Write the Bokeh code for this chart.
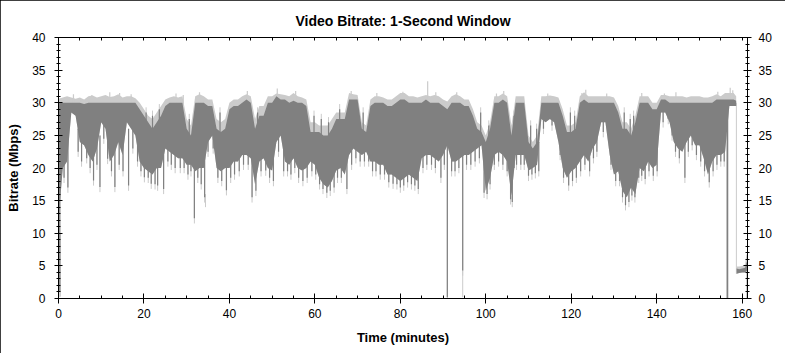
import numpy as np
from bokeh.plotting import figure
from bokeh.models import (LinearAxis, Range1d, ColumnDataSource,
                          SingleIntervalTicker, FixedTicker)
from bokeh.embed import file_html
from bokeh.resources import INLINE

# ---- data ----
minutes = list(range(0, 159))
hi = [30, 30, 30, 30, 30, 30, 29.8, 30, 30, 30,
      30, 30, 30, 30, 30, 30, 30, 30, 30, 29,
      28, 27, 26, 27, 28, 29.5, 30, 30, 30, 30,
      26, 25, 30, 30, 30, 29.5, 29.5, 26, 25.5, 26,
      29, 29.5, 29.5, 30, 30.5, 30, 26, 28, 28, 30,
      30, 31, 30.5, 30.5, 30, 30.3, 30, 30, 29.5, 25.5,
      25.5, 25.5, 25, 25, 26, 27.5, 27.5, 27.5, 30.5, 30.5,
      30.5, 26, 25.5, 29.5, 30, 30, 30, 29.5, 29.5, 30,
      30.5, 30.5, 30, 30, 30, 30, 30.5, 30, 30, 30,
      29.5, 29, 30, 30, 30, 29.5, 29.5, 28, 26, 25.5,
      24, 26, 30, 30, 30.5, 30, 25, 30, 30, 30,
      24, 23, 24, 30, 30, 30, 30, 30, 28, 25.5,
      25.5, 26, 30, 30.5, 30, 30, 30, 30, 30, 30,
      30, 28.5, 26, 26, 25, 27, 30, 30, 30, 29,
      29, 30.5, 30.5, 30, 30, 30, 30, 30, 30, 30,
      30, 30, 30, 30, 30.5, 30.5, 30.5, 30.5, 30.5]
lo = [12, 20, 21, 28.5, 28, 24, 23.5, 22, 21, 23,
      27, 26, 21, 22, 24, 22, 27, 26, 25, 21,
      20, 19.5, 19, 20, 20, 23, 22.5, 22, 21.5, 21.5,
      20.5, 20.5, 19.5, 20, 20, 24, 25, 20, 19.5, 20,
      20, 21, 21, 22, 22, 21.5, 17.5, 21, 21.5, 20,
      19.6, 24, 25, 21, 20.5, 21.5, 20, 19.6, 20, 21,
      20.5, 18.5, 17.5, 17, 18, 19.6, 20, 19, 22, 23,
      22.5, 22, 22.5, 21, 21, 20.5, 20.5, 19, 19, 18.5,
      18, 18.5, 19, 18.5, 18, 21.5, 22, 22, 21.5, 21,
      22, 23.5, 21, 21, 21.5, 22, 22, 22.5, 23, 23.5,
      16.5, 18.5, 22, 22.5, 22, 21, 15.8, 22, 22, 22,
      19.6, 20, 20.5, 27.5, 27, 27.5, 27, 24, 20, 18.5,
      19.5, 20, 21, 22, 21, 23, 24, 27, 27, 22,
      19, 19.5, 16.5, 15.5, 17, 16, 20, 19.5, 21, 20,
      20.5, 28.5, 28.5, 27, 24, 23, 22.5, 24, 25, 23.5,
      23.5, 21.5, 19, 21, 22, 22, 22.5, 29.5, 29.5]
pk = [30.6, 30.8, 31, 30.8, 30.6, 30.8, 30.5, 31, 31.1, 30.8,
      31, 31.2, 30.9, 31, 31.3, 30.8, 31, 31, 30.7, 30,
      29, 28, 27.5, 28.5, 29.5, 30.5, 30.8, 31, 30.8, 31,
      27.5, 26.5, 31, 31.3, 31, 30.5, 30.5, 27.5, 27, 27.5,
      30, 30.5, 30.5, 31, 31.3, 31, 27.5, 29.5, 29.5, 31,
      31, 31.4, 31.3, 31.2, 31, 31.5, 31, 30.8, 30.5, 27,
      27, 26.5, 26.5, 26.5, 27.5, 28.5, 28.5, 28.5, 31.5, 31.3,
      31.2, 27, 26.5, 30.5, 31, 31, 30.8, 30.5, 30.5, 31,
      31.5, 31.5, 31, 31, 30.8, 31, 31.2, 31, 31.2, 31,
      30.5, 30.2, 31, 31.3, 31, 30.5, 30.5, 29, 27, 26.5,
      25, 27, 31, 31, 31.4, 31, 26.5, 31, 31, 31,
      25, 24, 25, 31, 31, 31.1, 31, 30.8, 29, 26.5,
      26.5, 27, 31, 31.6, 31, 31, 31, 31, 31, 31,
      30.8, 29.5, 27, 27, 26, 28, 31, 31, 31, 30,
      30, 31.2, 31.2, 31, 31, 31, 31, 30.8, 31, 31,
      31, 30.8, 30.8, 31, 31.3, 31, 31.5, 31.5, 31.5]
tail_t = [158.6, 158.7, 159.3, 160.0, 160.7, 161.0, 161.2]
tail_hi = [30.3, 4.6, 4.5, 4.6, 4.7, 5.5, 5.5]
tail_lo = [29.5, 3.8, 3.9, 4.0, 4.0, 4.2, 4.2]
tail_pk = [31.0, 4.9, 4.9, 5.0, 5.2, 6.8, 6.8]

# downward dark streaks: time, upper end, lower end
dip_t = [0.3, 1.3, 2.2, 4.6, 5.4, 6.6, 7.4, 8.2, 9.0, 9.7,
         10.6, 11.5, 12.4, 13.2, 14.2, 15.1, 16.4, 17.4, 18.5, 19.3,
         20.1, 21.0, 21.7, 22.6, 23.2, 24.6, 25.6, 26.4, 27.3, 28.5,
         29.4, 30.3, 31.0, 31.8, 32.6, 33.4, 34.2, 35.0, 36.2, 37.3,
         38.2, 39.3, 40.3, 41.2, 42.3, 43.3, 44.4, 45.3, 46.2, 47.4,
         48.5, 49.4, 50.3, 51.5, 52.7, 53.6, 54.4, 55.3, 56.2, 57.2,
         58.2, 59.3, 60.2, 61.1, 61.9, 62.8, 63.6, 64.5, 65.3, 66.2,
         67.5, 68.6, 69.6, 70.6, 71.6, 72.6, 73.5, 74.3, 75.3, 76.3,
         77.3, 78.3, 79.2, 80.0, 80.8, 81.7, 82.6, 83.4, 84.2, 85.3,
         86.2, 87.3, 88.2, 89.5, 90.3, 91.0, 92.0, 92.8, 93.7, 94.6,
         95.5, 96.5, 97.5, 98.5, 99.6, 100.3, 101.0, 102.0, 103.0, 104.0,
         105.0, 105.8, 106.2, 107.2, 108.2, 109.0, 110.0, 110.8, 111.6, 112.4,
         113.5, 115.5, 117.4, 118.2, 119.4, 120.3, 121.2, 122.2, 123.2, 124.3,
         125.2, 126.0, 127.5, 129.3, 130.4, 131.3, 132.0, 132.7, 133.5, 134.2,
         134.9, 135.8, 136.5, 137.3, 138.2, 139.2, 140.1, 141.5, 142.7, 143.6,
         144.4, 145.3, 146.6, 147.4, 148.3, 149.3, 150.3, 151.2, 152.3, 153.2,
         154.1, 155.0, 155.8, 156.5, 156.6, 161.2]
dip_top = [30, 25, 25, 26, 26, 26, 26, 25, 26, 25,
           28, 27, 25, 25, 26, 26, 26, 27, 27, 25,
           24, 24, 24, 24, 24, 24, 26, 26, 26, 25,
           25, 24, 24, 24, 25, 25, 25, 27, 27, 24,
           24, 24, 25, 26, 26, 26, 26, 24, 24, 25,
           25, 25, 25, 27, 26, 25, 25, 25, 25, 25,
           25, 24, 24, 23, 22, 22, 22, 23, 24, 24,
           24, 26, 26, 26, 25, 25, 25, 25, 25, 25,
           24, 24, 24, 24, 24, 24, 24, 24, 24, 25,
           25, 25, 25, 25, 25, 26, 25, 25, 25, 26,
           25, 25, 25, 25, 23, 23, 23, 26, 26, 26,
           25, 24, 24, 25, 25, 25, 23, 23, 23, 24,
           29, 29, 26, 24, 24, 24, 24, 25, 25, 25,
           26, 26, 29, 25, 24, 24, 23, 23, 23, 23,
           23, 25, 25, 25, 25, 25, 25, 29.5, 29.5, 28,
           27, 26, 26, 26, 27, 26, 26, 25, 25, 25,
           26, 26, 26, 29, 29, 5.5]
dip_bot = [1.0, 18.5, 17, 22.5, 21, 21.5, 20, 18.1, 20.5, 17.1,
           24.5, 21.4, 19.5, 17.1, 20.5, 19.5, 17.3, 23, 21, 19.5,
           18.6, 18.5, 17.6, 17.5, 17.3, 16.8, 21, 20.5, 20, 20,
           20, 19, 19.5, 12.3, 18.5, 17.5, 15.5, 22.5, 23, 18.5,
           18, 16.6, 18.5, 19, 19.5, 20.5, 20.5, 15.5, 16.5, 19.5,
           19.6, 18.5, 18.0, 22.5, 19.5, 19.5, 19, 20, 18.5, 18.0,
           18.5, 19.5, 19, 17.5, 16.8, 16.2, 16.5, 17, 18.5, 18.5,
           16.8, 20.5, 21.5, 21, 21, 21, 19.5, 19.5, 19, 19,
           17.8, 17.6, 17.5, 17, 17.3, 17.8, 17.5, 17.3, 16.8, 20,
           20.5, 20.5, 20, 18.5, 20.5, 0.2, 19.5, 19.5, 20, 4.3,
           20.5, 20.5, 21, 21.5, 16.2, 16, 17.5, 20.5, 21, 20.5,
           19.5, 15.2, 14.8, 20.5, 20.5, 20.5, 18.8, 19, 19.2, 19.5,
           26, 26.5, 22, 18.5, 17.3, 18, 18.5, 19.5, 20.5, 19.5,
           21.5, 22.5, 25.5, 20.5, 18, 18, 15.5, 14.3, 14.8, 15.8,
           15.5, 18.5, 18.8, 18.3, 19.5, 18.8, 19.5, 27, 27.5, 25,
           22.5, 21.5, 18.5, 22.5, 23.5, 22, 21, 19.5, 17.8, 19.5,
           20.5, 21, 21, 0, 0, 0]

# upward dark streaks: time, lower end, upper end
rise_t = [20.5, 22.0, 23.6, 30.6, 37.8, 46.6, 59.8, 61.5, 63.2, 65.8,
          71.3, 98.8, 100.7, 106.6, 110.5, 111.9, 119.8, 120.8, 132.4, 133.8,
          134.6]
rise_bot = [24, 23, 23, 22, 22, 22, 22, 21, 20, 22,
            23, 24, 20, 20, 21, 21, 21, 21, 20, 19,
            20]
rise_top = [28.5, 28, 29, 27.5, 28.5, 28.5, 28, 27.5, 27, 29,
            28.5, 28.5, 26.5, 28, 26.5, 26, 28.5, 28, 28.5, 27.5,
            28]

# extra light-grey streaks: time, upper end, lower end
ls_t = [0.45, 34.4, 94.6, 158.65]
ls_top = [10, 16, 4.3, 30]
ls_bot = [0.3, 14.0, 0.2, 3.8]

# light peaks above the band: time, value
peak_t = [3.5, 7.8, 12.0, 14.3, 17.0, 27.5, 29.2, 33.0, 44.2, 51.2,
          55.5, 68.5, 74.5, 80.6, 86.4, 88.3, 93.2, 102.5, 104.2, 114.5,
          122.5, 123.4, 128.3, 136.5, 141.8, 144.5, 154.3, 157.2, 157.8]
peak_v = [31.3, 31.2, 31.6, 31.5, 31.3, 31.4, 31.2, 31.6, 31.8, 32.2,
          31.8, 31.8, 31.5, 31.7, 33.3, 31.6, 31.6, 31.4, 31.8, 31.4,
          31.5, 32.0, 31.4, 31.5, 31.4, 31.6, 31.7, 32.3, 31.9]

DARK = "#808080"
LIGHT = "#cbcbcb"
FONT = "Liberation Sans"
TIP = 0.8  # length of the light tip drawn beyond a dark streak

t_all = np.array(minutes + tail_t, dtype=float)
hi_all = np.array(hi + tail_hi, dtype=float)
lo_all = np.array(lo + tail_lo, dtype=float)
pk_all = np.array(pk + tail_pk, dtype=float)
src = ColumnDataSource(dict(t=t_all, hi=hi_all, lo=lo_all, pk=pk_all))

p = figure(width=785, height=353, output_backend="svg", toolbar_location=None,
           x_range=Range1d(0, 161.25), y_range=Range1d(0, 40),
           min_border_left=58, min_border_right=38, min_border_top=37,
           min_border_bottom=55, title="Video Bitrate: 1-Second Window")
p.styles = {"outline": "1px solid black", "outline-offset": "-1px"}
p.background_fill_color = "white"
p.border_fill_color = "white"
p.outline_line_color = "black"
p.xgrid.visible = False
p.ygrid.visible = False

p.title.align = "center"
p.title.text_font = FONT
p.title.text_font_size = "14px"
p.title.text_font_style = "bold"
p.title.text_color = "black"
p.title.standoff = 17

# ---- data drawing ----
p.varea(x="t", y1="lo", y2="pk", source=src, fill_color=LIGHT)
# light tips / lines
p.segment(x0=ls_t, y0=ls_top, x1=ls_t, y1=ls_bot, line_color=LIGHT, line_width=1)
p.segment(x0=dip_t, y0=dip_top, x1=dip_t, y1=np.array(dip_bot) - TIP,
          line_color=LIGHT, line_width=1)
p.segment(x0=rise_t, y0=rise_bot, x1=rise_t, y1=np.array(rise_top) + TIP,
          line_color=LIGHT, line_width=1)
hi_at_pk = np.interp(peak_t, t_all, hi_all)
p.segment(x0=peak_t, y0=hi_at_pk, x1=peak_t, y1=peak_v, line_color=LIGHT, line_width=1.2)
# dark band and streaks
p.varea(x="t", y1="lo", y2="hi", source=src, fill_color=DARK)
p.segment(x0=dip_t, y0=dip_top, x1=dip_t, y1=dip_bot, line_color=DARK, line_width=1.2)
p.segment(x0=rise_t, y0=rise_bot, x1=rise_t, y1=rise_top, line_color=DARK, line_width=1.2)


def style_axis(ax):
    ax.axis_line_color = "black"
    ax.major_tick_line_color = "black"
    ax.minor_tick_line_color = "black"
    ax.major_label_text_font = FONT
    ax.major_label_text_font_size = "12px"
    ax.major_label_text_color = "black"
    ax.axis_label_text_font = FONT
    ax.axis_label_text_font_size = "13px"
    ax.axis_label_text_font_style = "bold"
    ax.axis_label_text_color = "black"


xa = p.xaxis[0]
xa.ticker = SingleIntervalTicker(interval=20, num_minor_ticks=4)
xa.axis_label = "Time (minutes)"
style_axis(xa)
xa.major_tick_in = 5
xa.major_tick_out = 5
xa.minor_tick_in = 3
xa.minor_tick_out = 0
xa.major_label_standoff = 5
xa.axis_label_standoff = 9

ya = p.yaxis[0]
ya.ticker = SingleIntervalTicker(interval=5, num_minor_ticks=5)
ya.axis_label = "Bitrate (Mbps)"
style_axis(ya)
ya.major_tick_in = 4
ya.major_tick_out = 4
ya.minor_tick_in = 2
ya.minor_tick_out = 2
ya.major_label_standoff = 9
ya.axis_label_standoff = 8

ra = LinearAxis(ticker=SingleIntervalTicker(interval=5, num_minor_ticks=5))
style_axis(ra)
ra.major_tick_in = 4
ra.major_tick_out = 4
ra.minor_tick_in = 2
ra.minor_tick_out = 2
ra.major_label_standoff = 7
p.add_layout(ra, "right")

# top edge: tick marks only, no labels
ta = LinearAxis(ticker=FixedTicker(ticks=[], minor_ticks=list(range(0, 165, 5))))
style_axis(ta)
ta.major_tick_in = 0
ta.major_tick_out = 0
ta.minor_tick_in = 3
ta.minor_tick_out = 0
ta.major_label_standoff = 0
p.add_layout(ta, "above")

open("out.html", "w").write(file_html(p, INLINE))
